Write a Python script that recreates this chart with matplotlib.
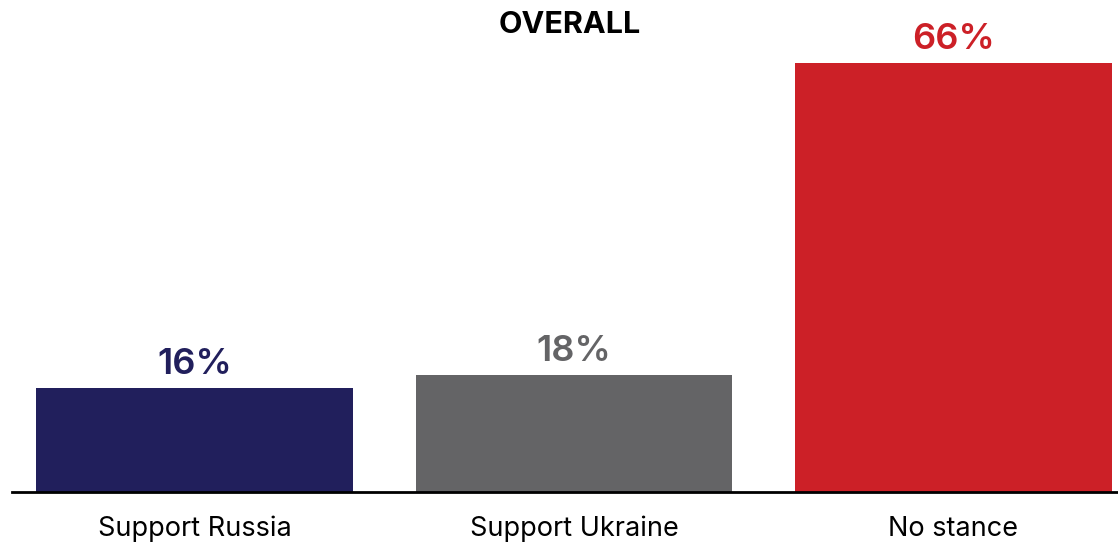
import matplotlib
matplotlib.use("Agg")
import matplotlib.pyplot as plt

plt.rcParams['font.family'] = ['Inter', 'DejaVu Sans']

categories = ["Support Russia", "Support Ukraine", "No stance"]
shares = [16, 18, 66]
colors = ["#211F5C", "#646466", "#CC2027"]

fig = plt.figure(figsize=(11.18, 5.47), dpi=100)
ax = fig.add_axes([12 / 1118, 55 / 547, 1106 / 1118, 492 / 547])

x = list(range(len(categories)))
ax.bar(x, shares, width=0.835, color=colors)

for xi, v, c in zip(x, shares, colors):
    ax.annotate(f"{v}%", (xi, v), xytext=(0, 10), textcoords="offset points",
                ha="center", va="baseline", fontsize=26, fontweight="semibold",
                color=c)

ax.set_xlim(-0.481, 2.4335)
ax.set_ylim(0, 66 * 492 / 429)
ax.set_xticks(x)
ax.set_xticklabels(categories, fontsize=19.5)
ax.tick_params(axis="x", length=0, pad=17)
ax.set_yticks([])
for s in ["top", "right", "left"]:
    ax.spines[s].set_visible(False)
ax.spines["bottom"].set_linewidth(2)
ax.spines["bottom"].set_color("black")

fig.text(570 / 1118, (547 - 33) / 547, "OVERALL", ha="center", va="baseline",
         fontsize=22, fontweight="bold")

fig.savefig("out.png", dpi=100)
